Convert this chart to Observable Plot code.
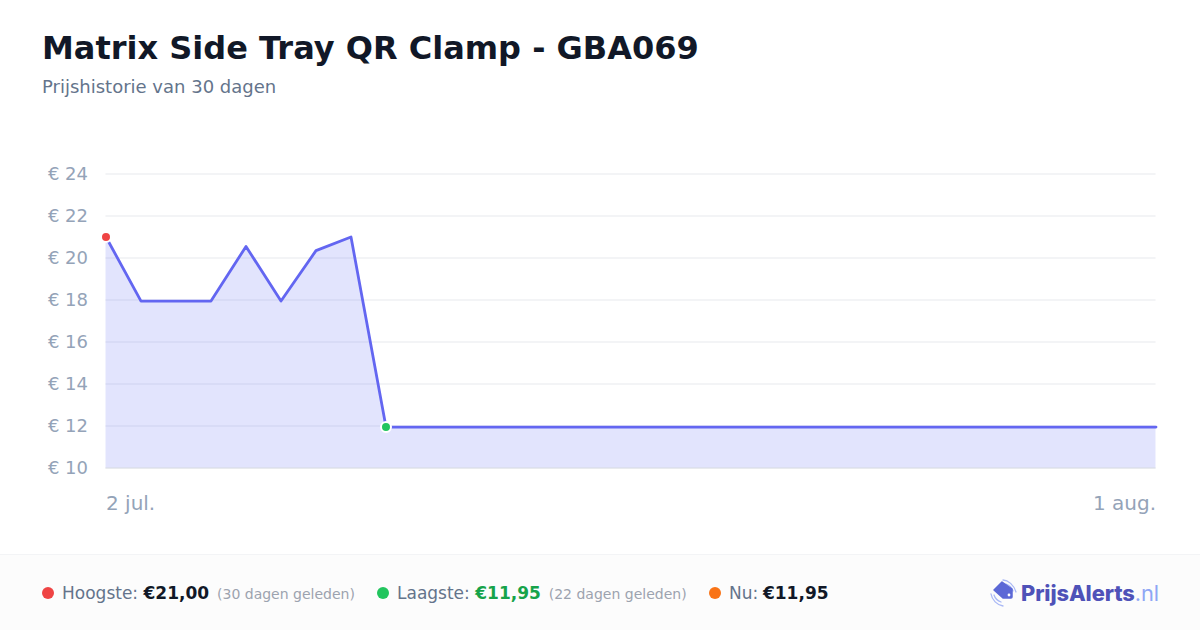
<!DOCTYPE html>
<html>
<head>
<meta charset="utf-8">
<script src="https://cdn.jsdelivr.net/npm/d3@7"></script>
<script src="https://cdn.jsdelivr.net/npm/@observablehq/plot@0.6"></script>
<style>
  html, body { margin: 0; padding: 0; background: #fff; }
  body { width: 1200px; height: 630px; position: relative; overflow: hidden; font-family: "DejaVu Sans", sans-serif; }
  h1 { position: absolute; left: 42px; top: 28px; margin: 0; font-size: 32px; line-height: 40px; font-weight: 700; color: #111827; white-space: nowrap; }
  #sub { position: absolute; left: 42px; top: 76px; font-size: 18px; line-height: 22px; color: #64748b; white-space: nowrap; }
  #chart { position: absolute; left: 0; top: 129px; }
  #chart svg { display: block; }
  #foot { position: absolute; left: 0; top: 554px; width: 1200px; height: 76px; background: #fcfcfc; border-top: 1px solid #f3f4f6; box-sizing: border-box; }
  .it { position: absolute; top: 28px; line-height: 20px; font-size: 17px; color: #64748b; white-space: nowrap; }
  .it b { color: #111827; font-weight: 700; font-size: 17px; }
  .it b.g { color: #16a34a; }
  .it small { color: #9ca3af; font-size: 14px; margin-left: 2.5px; }
  .d { position: absolute; top: 32px; width: 12px; height: 12px; border-radius: 50%; }
  #logo { position: absolute; left: 989px; top: 22px; }
  #brand { position: absolute; left: 1021px; top: 24px; font-family: Inter, sans-serif; font-size: 21.85px; line-height: 28px; font-weight: 800; color: #4f52b8; letter-spacing: -0.1px; white-space: nowrap; }
  #brand span { font-weight: 400; color: #8ea6f5; }
</style>
</head>
<body>
<h1>Matrix Side Tray QR Clamp - GBA069</h1>
<div id="sub">Prijshistorie van 30 dagen</div>
<div id="chart"></div>
<div id="foot">
  <div class="d" style="left:42px;background:#ef4444"></div>
  <div class="it" style="left:62px">Hoogste: <b>€21,00</b> <small>(30 dagen geleden)</small></div>
  <div class="d" style="left:377px;background:#22c55e"></div>
  <div class="it" style="left:397px">Laagste: <b class="g">€11,95</b> <small>(22 dagen geleden)</small></div>
  <div class="d" style="left:709px;background:#f97316"></div>
  <div class="it" style="left:729px">Nu: <b style="margin-left:-0.7px">€11,95</b></div>
  <svg id="logo" width="32" height="32" viewBox="0 0 32 32">
    <path d="M14 3 C19 3 25 8 27 15" fill="none" stroke="#a9b8f5" stroke-width="1.3" stroke-linecap="round"/>
    <path d="M17 7 C20 8 23 11 24 14" fill="none" stroke="#a9b8f5" stroke-width="1.3" stroke-linecap="round"/>
    <path d="M2 17 C3 23 8 28 14 29" fill="none" stroke="#a9b8f5" stroke-width="1.3" stroke-linecap="round"/>
    <path d="M5 18 C6 21 9 24 12 25" fill="none" stroke="#a9b8f5" stroke-width="1.3" stroke-linecap="round"/>
    <path d="M13 5 L23 12 L23 20 Q23 21 22 21 L14 21 L5 13 Z" fill="#5c68d6" stroke="#5c68d6" stroke-width="1.5" stroke-linejoin="round"/>
    <circle cx="20" cy="18" r="1.4" fill="#fff"/>
  </svg>
  <div id="brand">PrijsAlerts<span>.nl</span></div>
</div>
<script>
const dayOffsets = d3.range(0, 31);
const prices = [21.00, 17.95, 17.95, 17.95, 20.55, 17.95, 20.35, 21.00, 11.95, 11.95, 11.95, 11.95, 11.95, 11.95, 11.95, 11.95, 11.95, 11.95, 11.95, 11.95, 11.95, 11.95, 11.95, 11.95, 11.95, 11.95, 11.95, 11.95, 11.95, 11.95, 11.95];
const yTicks = [10, 12, 14, 16, 18, 20, 22, 24];
const startDate = new Date(2025, 6, 2);
const endDate = new Date(2025, 7, 1);
const startLabel = "2 jul.";
const endLabel = "1 aug.";
const highIndex = 0;
const lowIndex = 8;

const data = dayOffsets.map(i => ({date: d3.timeDay.offset(startDate, i), price: prices[i]}));

const plot = Plot.plot({
  width: 1200,
  height: 400,
  marginLeft: 105.5,
  marginRight: 44.5,
  marginTop: 44.5,
  marginBottom: 61.5,
  style: {fontFamily: '"DejaVu Sans", sans-serif', background: "transparent", overflow: "visible"},
  x: {type: "time", domain: [startDate, endDate]},
  y: {domain: [10, 24]},
  marks: [
    Plot.gridY(yTicks, {stroke: "#f3f4f6", strokeOpacity: 1, strokeWidth: 2}),
    Plot.ruleY([10], {stroke: "#e5e7eb", strokeWidth: 1.5}),
    Plot.areaY(data, {x: "date", y: "price", y1: 10, y2: "price", fill: "#818cf8", fillOpacity: 0.23}),
    Plot.lineY(data, {x: "date", y: "price", stroke: "#6366f1", strokeWidth: 2.8, strokeLinejoin: "round"}),
    Plot.dot([data[highIndex]], {x: "date", y: "price", r: 5, fill: "#ef4444", stroke: "#fff", strokeWidth: 2}),
    Plot.dot([data[lowIndex]], {x: "date", y: "price", r: 5, fill: "#22c55e", stroke: "#fff", strokeWidth: 2}),
    Plot.axisY(yTicks, {tickSize: 0, tickPadding: 18, label: null, fontSize: 18, fill: "#94a3b8", tickFormat: d => "€ " + d}),
    Plot.axisX([startDate], {tickSize: 0, tickPadding: 28, label: null, fontSize: 20, fill: "#94a3b8", textAnchor: "start", tickFormat: () => startLabel}),
    Plot.axisX([endDate], {tickSize: 0, tickPadding: 28, label: null, fontSize: 20, fill: "#94a3b8", textAnchor: "end", tickFormat: () => endLabel})
  ]
});
document.getElementById("chart").appendChild(plot);
</script>
</body>
</html>
